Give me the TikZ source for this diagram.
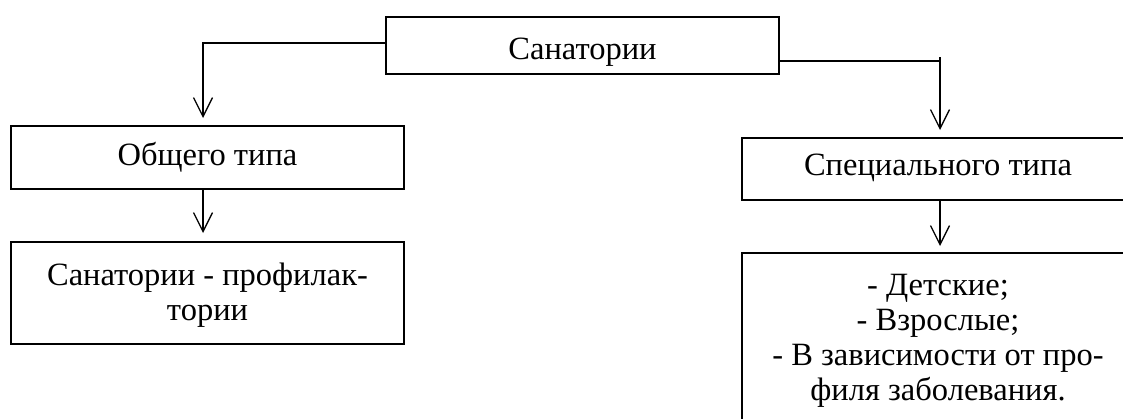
\documentclass[tikz,border=0pt]{standalone}
\usepackage{fontspec}
\setmainfont{Liberation Serif}
\usetikzlibrary{arrows.meta}
\begin{document}
\begin{tikzpicture}[x=1pt,y=-1pt,
  box/.style={draw,line width=1.8pt,inner sep=0pt,align=center,anchor=north,
    font=\fontsize{32.5}{35}\selectfont},
  conn/.style={line width=1.3pt,-{Straight Barb[length=19pt,width=19pt,line width=1.3pt]}},
  plain/.style={line width=1.3pt}]
\useasboundingbox (0,0) rectangle (1123,418);
\clip (0,0) rectangle (1123,418);
\node[box,minimum width=393pt,text height=43pt,text depth=14pt] (top) at (582.5,16) {Санатории};
\node[box,minimum width=393pt,text height=40pt,text depth=23pt] (left1) at (207.5,125) {Общего типа};
\node[box,minimum width=393pt,text height=79pt,text depth=23pt] (left2) at (207.5,241) {Санатории - профилак-\\тории};
\node[box,minimum width=392pt,text height=38pt,text depth=24pt] (right1) at (938,137) {Специального типа};
\node[box,minimum width=392pt,text height=148pt,text depth=24pt] (right2) at (938,252) {- Детские;\\- Взрослые;\\- В зависимости от про-\\филя заболевания.};
% connectors
\coordinate (la) at (203,43);
\coordinate (ra) at (940,61);
\coordinate (rt) at (940,57);
\draw[conn,shorten >=7pt] (top.west |- la) -| (left1.north -| la);
\draw[plain] (top.east |- ra) -- (ra);
\draw[conn,shorten >=7pt] (rt) -- (right1.north -| rt);
\draw[conn,shorten >=8pt] (left1.south -| la) -- (left2.north -| la);
\draw[conn,shorten >=6pt] (right1.south -| rt) -- (right2.north -| rt);
\end{tikzpicture}
\end{document}
